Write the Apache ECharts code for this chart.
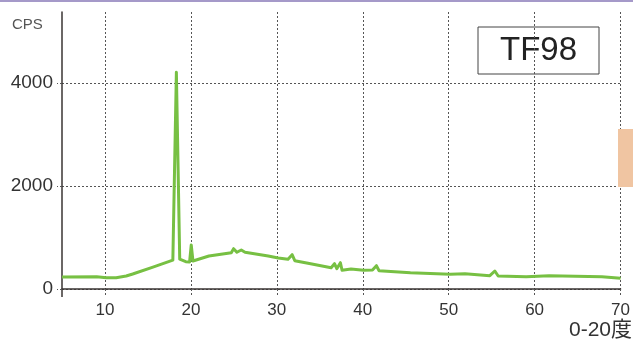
<!DOCTYPE html>
<html>
<head>
<meta charset="utf-8">
<script src="https://cdn.jsdelivr.net/npm/echarts@6/dist/echarts.min.js"></script>
<style>
  html, body { margin: 0; padding: 0; background: #fff; }
  #chart { width: 633px; height: 341px; }
</style>
</head>
<body>
<div id="chart"></div>
<script>
// Diffraction angle (degrees) and intensity (CPS) for sample TF98
const angles = [5, 9.04, 10.16, 11.3, 12.47, 13.23, 15.5, 17.9, 18.31, 18.7, 19.4, 19.85, 20.04, 20.24,
  22.1, 24.7, 24.97, 25.35, 25.86, 26.3, 29.0, 30.16, 31.3, 31.78, 32.09, 33.63, 36.32, 36.71,
  36.98, 37.4, 37.59, 38.63, 40.09, 41.13, 41.59, 41.9, 45.55, 50.17, 51.9, 54.79, 55.37, 55.76,
  59.02, 61.68, 67.83, 70];
const cps = [233, 239, 220, 220, 252, 291, 420, 560, 4208, 580, 530, 525, 855, 544,
  640, 705, 783, 713, 757, 713, 641, 602, 577, 666, 550, 499, 414, 492,
  395, 511, 363, 388, 363, 369, 453, 356, 317, 285, 297, 259, 350, 252,
  239, 259, 239, 207];

const xTicks = [10, 20, 30, 40, 50, 60, 70];
const yTicks = [0, 2000, 4000];
const sampleName = 'TF98';
const yUnit = 'CPS';
const xUnit = '0-20度';

const FONT = '"Liberation Sans", "Noto Sans CJK JP", sans-serif';
const AXIS_COLOR = '#3a3533';
const GRID_COLOR = '#555';

const chart = echarts.init(document.getElementById('chart'), null, { renderer: 'canvas' });

chart.setOption({
  animation: false,
  backgroundColor: '#fff',
  grid: { left: 62, right: 8, top: 12, bottom: 52, containLabel: false },
  xAxis: {
    type: 'value',
    min: 5,
    max: 70,
    axisLine: { show: true, onZero: false, lineStyle: { color: AXIS_COLOR, width: 1.5 } },
    axisTick: {
      show: true, customValues: xTicks, length: 8, inside: false,
      lineStyle: { color: GRID_COLOR, type: [2, 2], width: 1 }
    },
    axisLabel: {
      customValues: xTicks, margin: 13, formatter: v => String(v),
      color: '#333', fontSize: 17, fontFamily: FONT
    },
    splitLine: { show: true, lineStyle: { color: GRID_COLOR, type: [2, 2], width: 1 } }
  },
  yAxis: {
    type: 'value',
    min: 0,
    max: 5380,
    axisLine: { show: true, lineStyle: { color: AXIS_COLOR, width: 1.5 } },
    axisTick: {
      show: true, customValues: yTicks, length: 5,
      lineStyle: { color: GRID_COLOR, type: [2, 2], width: 1 }
    },
    axisLabel: {
      customValues: yTicks, margin: 9, formatter: v => String(v),
      color: '#333', fontSize: 19, fontFamily: FONT
    },
    splitLine: { show: true, lineStyle: { color: GRID_COLOR, type: [2, 2], width: 1 } }
  },
  series: [{
    type: 'line',
    data: angles.map((a, i) => [a, cps[i]]),
    showSymbol: false,
    symbol: 'none',
    lineStyle: { color: '#77c043', width: 3, join: 'round' },
    z: 5
  }],
  graphic: [
    // top rule
    { type: 'rect', left: 0, top: 0, shape: { width: 633, height: 2 }, style: { fill: '#a599c9' }, silent: true },
    // y-axis tail below the x axis
    { type: 'line', shape: { x1: 62, y1: 289, x2: 62, y2: 297 }, style: { stroke: AXIS_COLOR, lineWidth: 1.5 }, silent: true },
    // unit labels
    { type: 'text', x: 12, y: 25, style: { text: yUnit, fill: '#555', font: '15px ' + FONT, verticalAlign: 'middle' } },
    { type: 'text', x: 632, y: 330, style: { text: xUnit, fill: '#333', font: '21px ' + FONT, align: 'right', verticalAlign: 'middle' } },
    // sample name box
    {
      type: 'group', x: 478, y: 27, z: 10,
      children: [
        { type: 'rect', shape: { x: 0, y: 0, width: 121, height: 47 }, style: { fill: '#fff', stroke: '#444', lineWidth: 1 } },
        { type: 'text', x: 60.5, y: 24, style: { text: sampleName, fill: '#222', font: '33px ' + FONT, align: 'center', verticalAlign: 'middle' } }
      ]
    },
    // side tab
    { type: 'rect', x: 618, y: 129, z: 10, shape: { width: 15, height: 58 }, style: { fill: '#f0c5a2' } }
  ]
});
</script>
</body>
</html>
